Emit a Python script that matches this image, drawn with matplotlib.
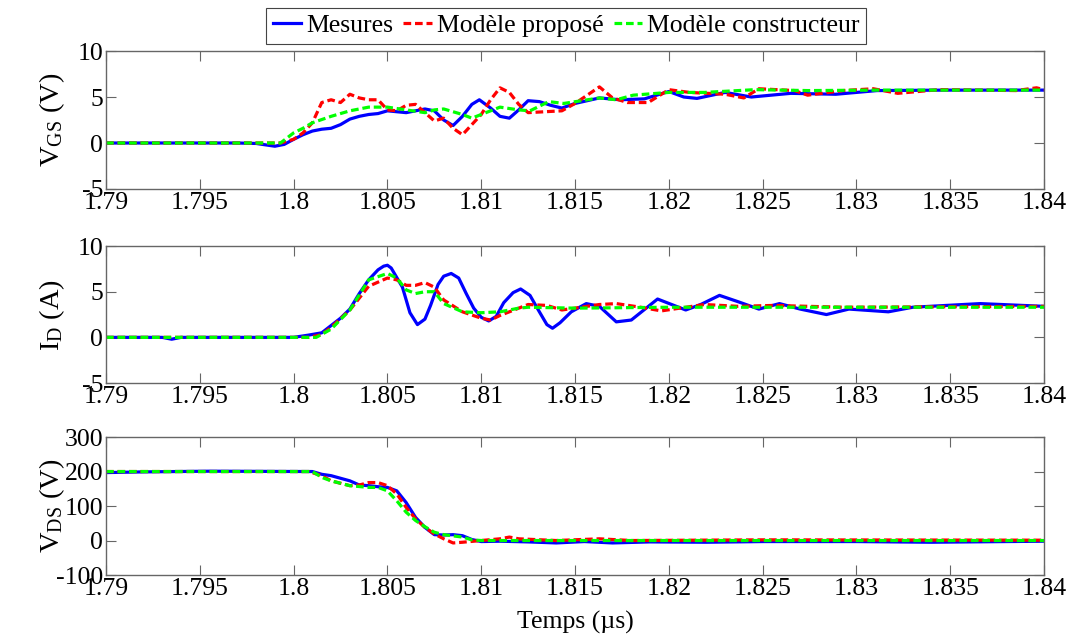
import matplotlib
matplotlib.use('Agg')
import matplotlib.pyplot as plt

plt.rcParams['font.family'] = ['Liberation Serif', 'DejaVu Serif']
plt.rcParams['mathtext.fontset'] = 'custom'
plt.rcParams['mathtext.rm'] = 'Liberation Serif'
plt.rcParams['mathtext.it'] = 'Liberation Serif:italic'
plt.rcParams['axes.unicode_minus'] = False

# V_GS (V)
t_vgs_mes = [1.790, 1.797, 1.798, 1.7985, 1.799, 1.7995, 1.800, 1.8005, 1.801, 1.8015, 1.802, 1.8025,
             1.803, 1.8035, 1.804, 1.8045, 1.805, 1.8055, 1.806, 1.8065, 1.807, 1.8075, 1.808, 1.8085,
             1.809, 1.8095, 1.8099, 1.8105, 1.811, 1.8115, 1.812, 1.8125, 1.8131, 1.8137, 1.8143, 1.815,
             1.8163, 1.8174, 1.8187, 1.820, 1.8208, 1.8215, 1.823, 1.8244, 1.8265, 1.8289, 1.8311,
             1.8348, 1.840]
vgs_mes = [0, 0, -0.05, -0.2, -0.35, -0.15, 0.4, 0.9, 1.3, 1.5, 1.6, 2.0,
           2.6, 2.9, 3.1, 3.2, 3.5, 3.4, 3.3, 3.5, 3.7, 3.5, 2.5, 1.9,
           2.9, 4.2, 4.7, 3.8, 2.9, 2.7, 3.6, 4.6, 4.5, 4.1, 3.8, 4.3,
           4.9, 4.7, 4.8, 5.6, 5.0, 4.85, 5.5, 5.0, 5.4, 5.3, 5.7,
           5.75, 5.75]
t_vgs_prop = [1.790, 1.7993, 1.800, 1.8005, 1.801, 1.8015, 1.802, 1.8025, 1.803, 1.8035, 1.804, 1.8045,
              1.805, 1.8055, 1.806, 1.8065, 1.807, 1.8075, 1.808, 1.8085, 1.809, 1.8095, 1.810, 1.8105,
              1.811, 1.8115, 1.812, 1.8125, 1.8143, 1.815, 1.8163, 1.817, 1.8178, 1.8189, 1.820, 1.8211,
              1.823, 1.824, 1.8248, 1.8267, 1.8274, 1.8293, 1.8309, 1.8322, 1.8344, 1.8385, 1.8396, 1.840]
vgs_prop = [0, 0, 0.4, 1.1, 2.2, 4.4, 4.7, 4.4, 5.3, 4.9, 4.7, 4.7,
            3.6, 3.5, 4.1, 4.2, 3.3, 2.4, 2.7, 1.6, 0.9, 2.0, 3.1, 4.7,
            6.0, 5.5, 4.2, 3.3, 3.5, 4.3, 6.1, 4.9, 4.4, 4.4, 5.8, 5.5,
            5.3, 4.9, 5.9, 5.7, 5.2, 5.7, 5.9, 5.4, 5.8, 5.7, 6.0, 5.8]
t_vgs_cons = [1.790, 1.7993, 1.800, 1.8005, 1.801, 1.802, 1.803, 1.804, 1.805, 1.806, 1.807, 1.8075,
              1.808, 1.809, 1.8095, 1.810, 1.811, 1.812, 1.8126, 1.8136, 1.8144, 1.8163, 1.8172, 1.8181,
              1.820, 1.8219, 1.8246, 1.8274, 1.8311, 1.840]
vgs_cons = [0, 0, 1.1, 1.6, 2.2, 2.9, 3.5, 3.9, 3.9, 3.6, 3.3, 3.6,
            3.7, 3.1, 2.7, 3.1, 3.9, 3.6, 3.5, 4.5, 4.3, 4.9, 4.7, 5.2,
            5.5, 5.5, 5.8, 5.7, 5.75, 5.75]

# I_D (A)
t_id_mes = [1.790, 1.793, 1.7935, 1.794, 1.800, 1.8008, 1.8015, 1.802, 1.8025, 1.803, 1.8035, 1.804,
            1.8045, 1.8048, 1.805, 1.8052, 1.8058, 1.8062, 1.8066, 1.807, 1.8073, 1.8077, 1.808,
            1.8084, 1.8088, 1.8092, 1.8096, 1.810, 1.8104, 1.8108, 1.8112, 1.8117, 1.8121, 1.8126,
            1.8131, 1.8135, 1.8138, 1.8142, 1.8148, 1.8156, 1.8163, 1.8172, 1.818, 1.8194,
            1.8204, 1.8209, 1.8217, 1.8227, 1.8237, 1.8248, 1.8259, 1.827, 1.8284, 1.8296, 1.8317,
            1.833, 1.8366, 1.840]
id_mes = [0, 0, -0.2, 0, 0, 0.25, 0.5, 1.3, 2.1, 3.1, 4.8, 6.3,
          7.4, 7.8, 7.9, 7.6, 5.5, 2.7, 1.4, 2.0, 3.5, 5.8, 6.7,
          7.0, 6.5, 4.8, 3.2, 2.2, 1.8, 2.3, 3.8, 4.9, 5.3, 4.6,
          2.8, 1.4, 1.0, 1.6, 2.8, 3.7, 3.4, 1.7, 1.9, 4.2,
          3.4, 3.0, 3.6, 4.6, 3.9, 3.1, 3.7, 3.1, 2.5, 3.1, 2.8,
          3.3, 3.7, 3.4]
t_id_prop = [1.790, 1.8008, 1.8015, 1.802, 1.803, 1.804, 1.805, 1.8055, 1.806, 1.8065, 1.807, 1.8075,
             1.808, 1.809, 1.810, 1.8105, 1.811, 1.812, 1.8125, 1.8135, 1.8143, 1.8163, 1.8172, 1.8185,
             1.8196, 1.8219, 1.8237, 1.8256, 1.8293, 1.840]
id_prop = [0, 0, 0.3, 1.1, 3.0, 5.6, 6.5, 6.3, 5.7, 5.7, 6.0, 5.5,
           4.1, 2.8, 2.1, 1.9, 2.4, 3.2, 3.6, 3.5, 3.0, 3.6, 3.7, 3.3,
           2.9, 3.6, 3.4, 3.5, 3.3, 3.4]
t_id_cons = [1.790, 1.8012, 1.802, 1.803, 1.804, 1.805, 1.8055, 1.806, 1.8065, 1.807, 1.8075, 1.808,
             1.809, 1.810, 1.811, 1.812, 1.8125, 1.815, 1.820, 1.825, 1.830, 1.840]
id_cons = [0, 0, 0.9, 3.0, 6.3, 7.0, 6.5, 5.2, 4.8, 5.0, 5.0, 3.7,
           2.8, 2.7, 2.8, 3.2, 3.3, 3.2, 3.3, 3.3, 3.3, 3.3]

# V_DS (V)
t_vds_mes = [1.790, 1.792, 1.7955, 1.801, 1.8015, 1.802, 1.803, 1.8035, 1.804, 1.8045, 1.805, 1.8055,
             1.806, 1.8065, 1.807, 1.8075, 1.808, 1.8085, 1.809, 1.8095, 1.810, 1.811, 1.8125, 1.814,
             1.8155, 1.817, 1.819, 1.822, 1.825, 1.830, 1.834, 1.840]
vds_mes = [197, 199, 201, 200, 192, 188, 173, 161, 159, 156, 154, 144,
           110, 67, 38, 17, 16, 17, 14, 3, -3, -2, -4, -7,
           -3, -7, -4, -5, -3, -3, -5, -2]
t_vds_prop = [1.790, 1.8008, 1.8015, 1.802, 1.803, 1.8035, 1.804, 1.8045, 1.805, 1.8055, 1.806, 1.8065,
              1.807, 1.8075, 1.808, 1.8085, 1.809, 1.810, 1.811, 1.8115, 1.812, 1.814, 1.8163, 1.818,
              1.825, 1.840]
vds_prop = [200, 200, 188, 173, 159, 161, 168, 168, 159, 135, 96, 63,
            38, 19, 5, -7, -5, 0, 5, 10, 5, 0, 5, 0,
            2, 1]
t_vds_cons = [1.790, 1.801, 1.8015, 1.802, 1.803, 1.804, 1.8045, 1.805, 1.8055, 1.806, 1.8065, 1.807,
              1.8075, 1.808, 1.809, 1.8095, 1.810, 1.840]
vds_cons = [200, 200, 183, 173, 159, 154, 154, 144, 115, 82, 58, 40,
            24, 17, 10, 2, 0, 0]

x_ticks = [1.79, 1.795, 1.80, 1.805, 1.81, 1.815, 1.82, 1.825, 1.83, 1.835, 1.84]
legend_labels = ['Mesures', 'Modèle proposé', 'Modèle constructeur']
y_labels = [r'$\mathrm{V_{GS}}$ (V)', r'$\mathrm{I_{D}}$ (A)', r'$\mathrm{V_{DS}}$ (V)']
y_limits = [(-5, 10), (-5, 10), (-100, 300)]
y_ticks = [[-5, 0, 5, 10], [-5, 0, 5, 10], [-100, 0, 100, 200, 300]]

panels = [
    (t_vgs_mes, vgs_mes, t_vgs_prop, vgs_prop, t_vgs_cons, vgs_cons),
    (t_id_mes, id_mes, t_id_prop, id_prop, t_id_cons, id_cons),
    (t_vds_mes, vds_mes, t_vds_prop, vds_prop, t_vds_cons, vds_cons),
]

fig = plt.figure(figsize=(10.73, 6.37), dpi=100)
# axes boxes in figure fractions: [left, bottom, width, height]
boxes = [[0.0988, 0.7033, 0.8742, 0.2166],
         [0.0988, 0.3987, 0.8742, 0.2150],
         [0.0988, 0.0973, 0.8742, 0.2166]]

fs = 18.5
frame = '#666666'
handles = None
for k, (box, data) in enumerate(zip(boxes, panels)):
    ax = fig.add_axes(box)
    t1, y1, t2, y2, t3, y3 = data
    l1, = ax.plot(t1, y1, color='#0000ff', lw=2.3)
    l2, = ax.plot(t2, y2, color='#ff0000', lw=2.3, dashes=(2.4, 1.2))
    l3, = ax.plot(t3, y3, color='#00ff00', lw=2.3, dashes=(2.4, 1.2))
    if handles is None:
        handles = [l1, l2, l3]
    ax.set_xlim(1.79, 1.84)
    ax.set_ylim(*y_limits[k])
    ax.set_xticks(x_ticks)
    ax.set_xticklabels(['%g' % v for v in x_ticks])
    ax.set_yticks(y_ticks[k])
    ax.set_yticklabels(['%g' % v for v in y_ticks[k]])
    ax.tick_params(direction='in', length=7, width=0.8, color=frame,
                   top=True, right=True, labelsize=fs, pad=2)
    for s in ax.spines.values():
        s.set_color(frame)
        s.set_linewidth(1.0)
    ax.set_ylabel(y_labels[k], fontsize=fs + 2)
    ax.yaxis.set_label_coords(-0.042, 0.5)
    if k == 2:
        ax.set_xlabel('Temps (µs)', fontsize=fs, labelpad=8)

leg = fig.legend(handles, legend_labels, loc='upper center', bbox_to_anchor=(0.5275, 0.9874),
                 ncol=3, fontsize=fs, fancybox=False, framealpha=1, edgecolor='#444444',
                 handlelength=1.1, handletextpad=0.2, columnspacing=0.4, borderpad=0.25,
                 borderaxespad=0)
leg.get_frame().set_linewidth(0.8)

fig.savefig('out.png', dpi=100)
